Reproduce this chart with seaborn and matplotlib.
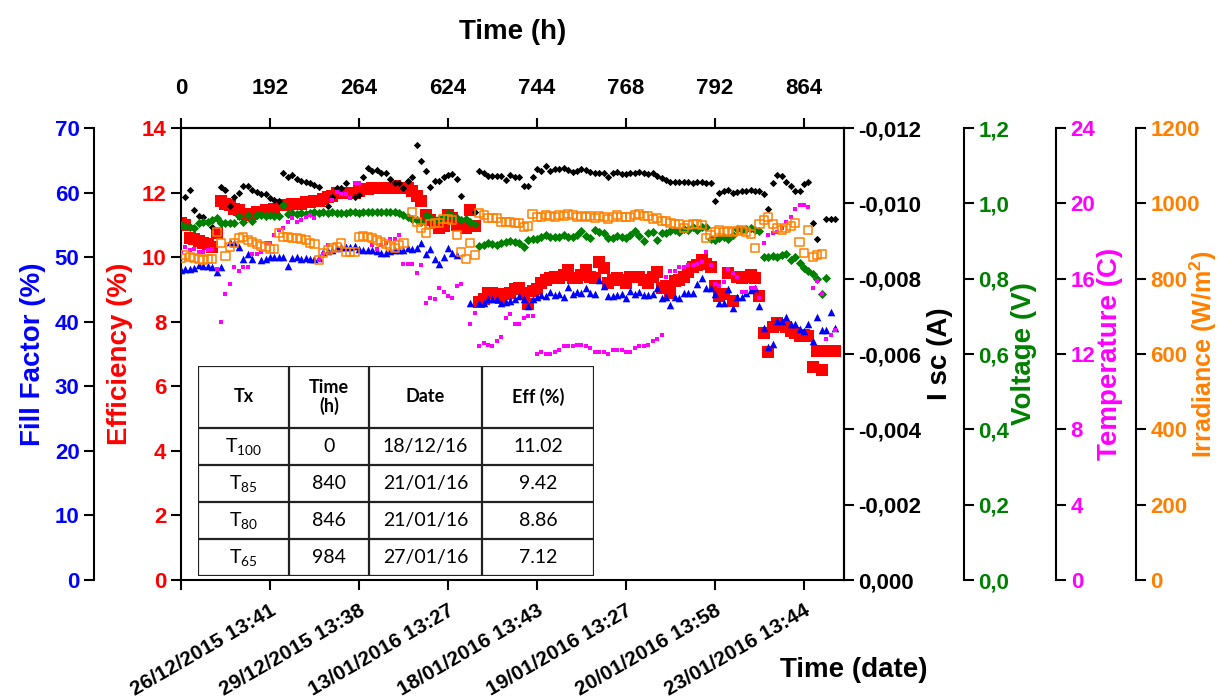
import numpy as np
import matplotlib.pyplot as plt
from matplotlib.ticker import FuncFormatter
from matplotlib.patches import Rectangle
import seaborn as sns

sns.set_style('ticks')
plt.rcParams['font.family'] = ['Liberation Sans', 'DejaVu Sans']
plt.rcParams['font.weight'] = 'bold'
plt.rcParams['axes.labelweight'] = 'bold'
plt.rcParams['axes.labelcolor'] = 'black'
plt.rcParams['text.color'] = 'black'
plt.rcParams['axes.edgecolor'] = 'black'
plt.rcParams['xtick.color'] = 'black'
plt.rcParams['ytick.color'] = 'black'

nan = np.nan

# ---- data (one value per measurement, NaN = no point) ----
efficiency = [
    11.05, 11.0, 10.6, 10.55, 10.5, 10.45, 10.4, 10.3, 10.75, 11.75,
    11.65, 11.6, 11.5, 11.45, 11.35, 11.3, 11.35, 11.4, 11.4, 11.45,
    11.45, 11.5, 11.6, 11.6, 11.6, 11.65, 11.65, 11.65, 11.7, 11.7,
    11.75, 11.75, 11.8, 11.85, 11.9, 12.0, 12.0, 12.0, 12.0, 12.0,
    12.05, 12.1, 12.1, 12.15, 12.15, 12.15, 12.15, 12.15, 12.2, 12.15,
    12.15, 12.15, 12.05, 11.9, 11.75, 11.3, 11.15, 11.05, 10.9, 10.95,
    11.3, 11.2, 11.0, 11.0, 10.9, 11.45, 10.95, 8.6, 8.7, 8.9,
    8.9, 8.85, 8.75, 8.85, 8.9, 9.0, 9.05, 8.9, 8.55, 8.95,
    9.0, 9.2, 9.3, 9.35, 9.4, 9.35, 9.45, 9.6, 9.35, 9.35,
    9.45, 9.6, 9.4, 9.35, 9.85, 9.65, 9.2, 9.3, 9.35, 9.3,
    9.2, 9.4, 9.4, 9.4, 9.3, 9.2, 9.4, 9.55, 9.05, 9.1,
    8.9, 9.25, 9.3, 9.4, 9.55, 9.7, 9.75, 9.9, 9.8, 9.7,
    9.1, 8.8, 8.85, 9.5, 8.65, 9.4, 9.35, 9.4, 9.45, 9.35,
    8.8, 7.65, 7.05, 7.85, 7.95, 7.9, 7.85, 7.7, 7.65, 7.55,
    7.6, 7.55, 6.6, 7.1, 6.5, 7.1, 7.1, 7.1]

fill_factor = [
    48.0, 48.2, 48.2, 48.3, 48.8, 48.6, 48.6, 48.5, 47.7, 48.5,
    nan, 52.3, 52.2, 51.6, 49.7, 50.5, 49.7, nan, 49.6, 49.7,
    50.0, 50.0, 50.0, 50.0, 48.6, 49.9, 50.0, 49.7, 49.9, 49.7,
    49.7, 49.9, 50.8, 51.0, 51.1, 51.4, 51.6, 51.6, 51.6, 51.7,
    51.3, 51.1, 51.1, 51.1, 51.0, 50.6, 50.6, 51.0, 51.1, 51.1,
    51.1, 51.4, 51.3, 51.4, 52.2, 50.5, 51.3, 49.7, 48.9, 50.0,
    51.4, 50.6, 50.3, nan, nan, 42.9, nan, 42.9, 42.9, 43.5,
    43.5, 43.5, 42.9, 43.1, 43.2, 43.5, 44.0, 43.5, 42.4, 43.5,
    43.8, 44.1, 44.0, 44.6, 44.1, 44.3, 43.8, 45.4, 44.3, 44.6,
    44.4, 45.2, 44.4, 44.3, 46.5, 45.5, 44.0, 44.0, 44.1, 44.3,
    43.7, 44.8, 44.3, 44.6, 44.1, 44.1, 44.3, 45.2, 43.7, 43.8,
    42.6, 43.8, 43.7, 44.4, 44.4, 44.4, 45.8, 46.8, 45.2, 45.2,
    44.3, 42.9, 42.9, 45.0, 42.1, 43.8, 43.8, 44.4, 44.9, 45.2,
    42.4, 39.0, 36.1, 36.5, 40.1, 40.1, 40.7, 39.6, 39.6, 38.9,
    38.6, 39.6, 37.0, 40.7, 38.7, 38.7, 41.5, 39.0]

isc = [
    nan, -0.01017, -0.01035, -0.00982, -0.00966, -0.00964, -0.00950, -0.00937, nan, -0.01043,
    -0.01035, -0.00993, -0.01017, -0.01027, -0.01046, -0.01046, -0.01035, -0.01030, -0.01025, -0.01025,
    -0.01014, -0.01009, -0.01006, -0.01081, -0.01070, -0.01075, -0.01065, -0.01059, -0.01057, -0.01054,
    -0.01049, -0.01043, nan, -0.00993, -0.01017, -0.01041, -0.01041, -0.01054, nan, -0.01017,
    -0.01022, -0.01070, -0.01094, -0.01086, -0.01089, -0.01081, -0.01081, -0.01065, -0.01054, -0.01054,
    -0.01041, -0.01059, -0.01070, -0.01155, -0.01112, -0.01086, -0.01043, -0.01059, -0.01059, -0.01070,
    -0.01075, -0.01078, -0.01065, -0.01019, nan, nan, -0.00977, -0.01086, -0.01081, -0.01073,
    -0.01073, -0.01073, -0.01073, -0.01062, -0.01075, -0.01070, -0.01070, -0.01046, -0.01046, -0.01070,
    -0.01091, -0.01086, -0.01099, -0.01086, -0.01091, -0.01091, -0.01094, -0.01089, -0.01083, -0.01086,
    -0.01091, -0.01089, -0.01083, -0.01081, -0.01081, -0.01081, -0.01070, -0.01081, -0.01083, -0.01078,
    -0.01078, -0.01081, -0.01081, -0.01083, -0.01081, -0.01078, -0.01081, -0.01073, -0.01067, -0.01062,
    -0.01057, -0.01057, -0.01057, -0.01057, -0.01057, -0.01054, -0.01057, -0.01057, -0.01054, -0.01054,
    -0.01006, -0.01027, -0.01033, -0.01035, -0.01027, -0.01030, -0.01033, -0.01033, -0.01035, -0.01033,
    -0.01033, -0.01025, -0.00985, -0.01054, -0.01075, -0.01073, -0.01057, -0.01046, -0.01033, -0.01033,
    -0.01051, -0.01057, -0.00948, -0.00905, nan, -0.00958, -0.00958, -0.00958]

voltage = [
    0.943, 0.940, 0.937, 0.935, 0.948, 0.950, 0.950, 0.956, 0.961, 0.948,
    0.948, 0.948, 0.948, 0.966, 0.950, 0.969, 0.953, 0.969, 0.969, 0.966,
    0.969, 0.966, 0.966, 0.996, 0.972, 0.974, 0.972, 0.974, 0.972, 0.974,
    0.977, 0.974, 0.977, 0.974, 0.977, 0.974, 0.974, 0.974, 0.977, 0.977,
    0.974, 0.977, 0.977, 0.977, 0.977, 0.977, 0.977, 0.977, 0.977, 0.974,
    0.969, 0.964, 0.958, 0.956, 0.950, 0.969, 0.961, 0.956, 0.958, 0.964,
    0.972, 0.966, 0.961, 0.956, 0.958, 0.950, 0.945, 0.887, 0.889, 0.895,
    0.892, 0.889, 0.895, 0.897, 0.900, 0.897, 0.895, 0.884, 0.903, 0.905,
    0.905, 0.911, 0.916, 0.911, 0.911, 0.911, 0.916, 0.911, 0.911, 0.916,
    0.927, 0.913, 0.908, 0.929, 0.924, 0.921, 0.908, 0.908, 0.913, 0.911,
    0.908, 0.916, 0.927, 0.913, 0.900, 0.921, 0.924, 0.903, 0.921, 0.921,
    0.927, 0.929, 0.924, 0.932, 0.929, 0.937, 0.929, 0.937, 0.937, 0.905,
    0.903, 0.908, 0.911, 0.905, 0.916, 0.932, 0.929, 0.932, 0.935, 0.929,
    0.927, 0.858, 0.858, 0.860, 0.858, 0.863, 0.866, 0.850, 0.858, 0.842,
    0.828, 0.820, 0.812, 0.799, 0.759, 0.802]

temperature = [
    17.4, 17.7, 17.5, 17.6, 17.4, 17.4, 17.5, 17.6, 16.5, 13.7,
    15.2, 15.7, 16.6, 16.4, 16.6, 16.6, 17.3, 17.3, 17.4, 17.9,
    17.9, 18.3, 18.6, 18.7, 19.0, 19.2, 19.0, 19.1, 19.3, 19.4,
    19.2, 17.0, 17.3, 17.8, 20.2, 20.6, 20.5, 20.5, 20.3, 21.1,
    21.1, nan, nan, 17.8, 17.6, 17.8, 17.9, 18.1, 18.1, 18.3,
    16.8, 16.8, 16.8, 16.3, 16.7, 14.7, 15.0, 14.9, 15.5, 15.3,
    15.1, 15.0, 15.6, 15.7, nan, 13.6, 14.2, 12.4, 12.6, 12.5,
    12.4, 12.7, 12.9, 13.9, 14.1, 13.6, 13.6, 13.9, 14.0, 14.0,
    12.0, 12.1, 12.0, 12.0, 12.1, 12.2, 12.4, 12.4, 12.4, 12.5,
    12.5, 12.4, 12.3, 12.1, 12.1, 12.1, 12.0, 12.2, 12.2, 12.2,
    12.1, 12.1, 12.3, 12.4, 12.4, 12.5, 12.7, 12.8, 13.0, 16.1,
    16.4, 16.4, 16.6, 16.6, 16.7, 16.7, 16.8, 16.9, 17.4, 16.7,
    15.7, 15.6, 15.8, 16.5, 16.3, 16.1, 15.3, 15.3, 15.5, 15.5,
    15.0, 17.9, 18.3, 18.4, 18.5, 18.7, 19.0, 19.3, 19.7, 19.9,
    19.9, 19.8, 15.5, 15.9, 15.2, 12.8, 13.0, 13.3]

irradiance = [
    855, 863, 858, 855, 852, 850, 852, 852, 924, 895,
    860, 884, 895, 908, 911, 903, 897, 892, 887, 884,
    879, 879, 921, 911, 911, 908, 908, 905, 903, 895,
    892, 850, 868, 876, 881, 884, 895, 871, 871, 871,
    911, 913, 911, 908, 903, 897, 892, 887, 881, 889,
    895, nan, 977, 950, 935, 921, 945, 948, 948, 958,
    958, 956, 916, 871, 852, 895, 863, 974, 969, 961,
    961, 961, 950, 950, 950, 948, 948, 937, 940, 972,
    964, 964, 969, 966, 964, 969, 966, 972, 969, 964,
    966, 964, 966, 961, 966, 964, 958, 964, 969, 964,
    964, 964, 969, 972, 966, 966, 958, 961, 953, 953,
    948, 945, 945, 935, 943, 945, 945, 943, 908, 916,
    924, 929, 924, 927, 924, 927, 929, 924, 919, 881,
    945, 956, 964, 945, 935, 929, 935, 940, 948, 897,
    868, 929, 858, 863, 866]

tick_pos = [0, 20, 40, 60, 80, 100, 120, 140]
hours_labels = ['0', '192', '264', '624', '744', '768', '792', '864']
date_labels = ['', '26/12/2015 13:41', '29/12/2015 13:38', '13/01/2016 13:27',
               '18/01/2016 13:43', '19/01/2016 13:27', '20/01/2016 13:58',
               '23/01/2016 13:44']

table_tx = [r'T$\mathregular{_{100}}$', r'T$\mathregular{_{85}}$',
            r'T$\mathregular{_{80}}$', r'T$\mathregular{_{65}}$']
table_time = ['0', '840', '846', '984']
table_date = ['18/12/16', '21/01/16', '21/01/16', '27/01/16']
table_eff = ['11.02', '9.42', '8.86', '7.12']
table_head = ['Tx', 'Time\n(h)', 'Date', 'Eff (%)']

W, H = 1219, 698
fig = plt.figure(figsize=(W / 100, H / 100), dpi=100)
ax = fig.add_axes([181 / W, 1 - 580 / H, 663 / W, 452 / H])


def dots(a, vals, **kw):
    x = np.arange(len(vals))
    sns.scatterplot(x=x, y=np.array(vals, dtype=float), ax=a, legend=False, **kw)


def style_axis(a, side, color, pos=None):
    for s in a.spines.values():
        s.set_linewidth(1.5)
    if pos is not None:
        a.spines[side].set_position(('axes', pos))
    a.tick_params(axis='y', which='both', length=7, width=1.5,
                  labelsize=16, labelcolor=color)


# efficiency (main axes)
dots(ax, efficiency, marker='s', s=70, color='#FF0000', linewidth=0)
ax.set_xlim(0, 149)
ax.set_ylim(0, 14)
ax.set_yticks(range(0, 15, 2))
style_axis(ax, 'left', '#FF0000')
ax.set_ylabel('Efficiency (%)', color='#FF0000', fontsize=20, labelpad=6)
ax.set_xticks(tick_pos)
ax.set_xticklabels(date_labels, rotation=30, ha='right', va='top',
                   rotation_mode='anchor', fontsize=15)
ax.tick_params(axis='x', length=7, width=1.5, pad=8)
ax.set_xlabel('Time (date)', fontsize=20)
ax.xaxis.set_label_coords(1.015, -0.17)

top = ax.secondary_xaxis('top')
top.set_xticks(tick_pos, labels=hours_labels)
top.tick_params(axis='x', length=7, width=1.5, labelsize=16, pad=14)
top.spines['top'].set_linewidth(1.5)
top.set_xlabel('Time (h)', fontsize=20, labelpad=28)

# fill factor
ax_ff = ax.twinx()
dots(ax_ff, fill_factor, marker='^', s=30, color='#0000FF', linewidth=0)
ax_ff.set_ylim(0, 70)
ax_ff.set_yticks(range(0, 71, 10))
ax_ff.yaxis.tick_left()
ax_ff.yaxis.set_label_position('left')
ax_ff.spines['right'].set_visible(False)
style_axis(ax_ff, 'left', '#0000FF', -0.131)
ax_ff.set_ylabel('Fill Factor (%)', color='#0000FF', fontsize=20, labelpad=6)

# Isc
ax_i = ax.twinx()
dots(ax_i, isc, marker='D', s=14, color='black', linewidth=0)
ax_i.set_ylim(0, -0.012)
ax_i.set_yticks([0, -0.002, -0.004, -0.006, -0.008, -0.010, -0.012])
ax_i.yaxis.set_major_formatter(FuncFormatter(lambda v, p: f'{v:.3f}'.replace('.', ',')))
style_axis(ax_i, 'right', 'black')
ax_i.set_ylabel('I sc (A)', fontsize=20, labelpad=4)

# voltage
ax_v = ax.twinx()
dots(ax_v, voltage, marker='D', s=22, color='#008000', linewidth=0)
ax_v.set_ylim(0, 1.2)
ax_v.set_yticks([0, 0.2, 0.4, 0.6, 0.8, 1.0, 1.2])
ax_v.yaxis.set_major_formatter(FuncFormatter(lambda v, p: f'{v:.1f}'.replace('.', ',')))
style_axis(ax_v, 'right', '#008000', 1.181)
ax_v.set_ylabel('Voltage (V)', color='#008000', fontsize=20, labelpad=1)

# temperature
ax_t = ax.twinx()
dots(ax_t, temperature, marker='s', s=10, color='#FF00FF', linewidth=0)
ax_t.set_ylim(0, 24)
ax_t.set_yticks(range(0, 25, 4))
style_axis(ax_t, 'right', '#FF00FF', 1.320)
ax_t.set_ylabel('Temperature (C)', color='#FF00FF', fontsize=20, labelpad=1)

# irradiance
ax_g = ax.twinx()
dots(ax_g, irradiance, marker='s', s=34, color='#FF8000',
     facecolor='none', edgecolor='#FF8000', linewidth=1.1)
ax_g.set_ylim(0, 1200)
ax_g.set_yticks(range(0, 1201, 200))
style_axis(ax_g, 'right', '#FF8000', 1.440)
ax_g.set_ylabel(r'Irradiance (W/m$\mathregular{^2}$)', color='#FF8000', fontsize=18)
ax_g.yaxis.set_label_coords(1.519, 0.5)

for a in (ax_ff, ax_i, ax_v, ax_t, ax_g):
    a.spines['top'].set_visible(False)
    a.spines['bottom'].set_visible(False)
for a in (ax_i, ax_v, ax_t, ax_g):
    a.spines['left'].set_visible(False)

# table
tab = fig.add_axes([198 / W, 1 - 576 / H, 396 / W, 210 / H])
tab.set_xlim(0, 1)
tab.set_ylim(0, 1)
tab.axis('off')
tab.add_patch(Rectangle((0, 0), 1, 1, facecolor='white', edgecolor='#222222', lw=1.6))
col_edges = [0, 0.230, 0.432, 0.717, 1]
row_edges = [1, 0.705, 0.529, 0.352, 0.176, 0]
for xe in col_edges[1:-1]:
    tab.plot([xe, xe], [0, 1], color='#222222', lw=1.6)
for ye in row_edges[1:-1]:
    tab.plot([0, 1], [ye, ye], color='#222222', lw=1.6)
cx = [(col_edges[i] + col_edges[i + 1]) / 2 for i in range(4)]
cy = [(row_edges[i] + row_edges[i + 1]) / 2 for i in range(5)]
tfont = ['Lato', 'DejaVu Sans']
for j, h in enumerate(table_head):
    tab.text(cx[j], cy[0], h, ha='center', va='center', fontsize=13,
             fontweight='bold', family=tfont, linespacing=1.1)
for i in range(4):
    row = [table_tx[i], table_time[i], table_date[i], table_eff[i]]
    for j, v in enumerate(row):
        tab.text(cx[j], cy[i + 1], v, ha='center', va='center', fontsize=14,
                 fontweight='normal', family=tfont)

fig.savefig('out.png', dpi=100)
